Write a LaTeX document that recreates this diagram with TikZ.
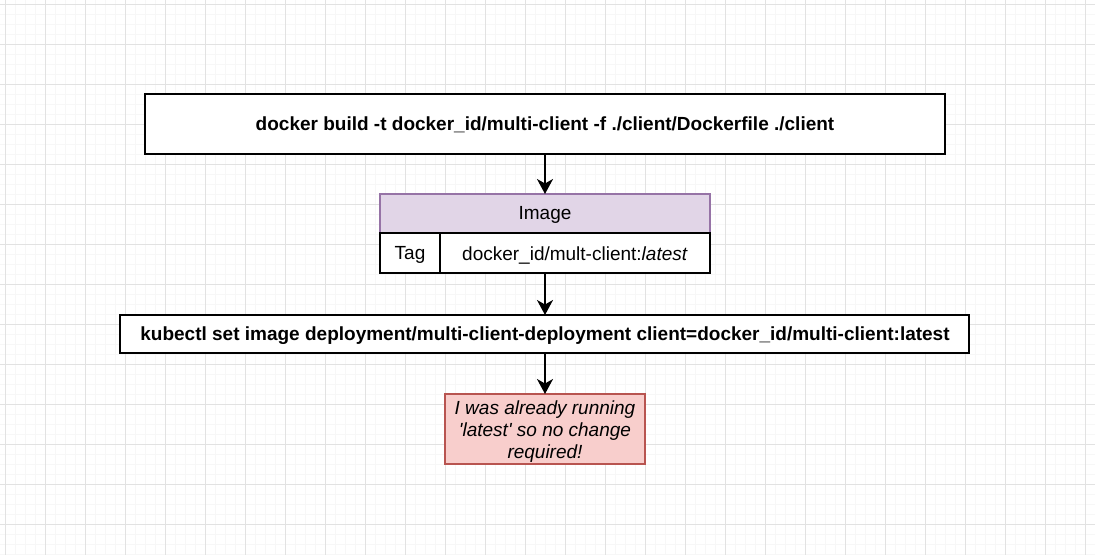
\documentclass[tikz,border=0pt]{standalone}
\usepackage{fontspec}
\setmainfont{Liberation Sans}
\usetikzlibrary{arrows.meta}
\definecolor{gridminor}{HTML}{F7F7F7}
\definecolor{gridmajor}{HTML}{E2E2E2}
\definecolor{purplefill}{HTML}{E1D5E7}
\definecolor{purpleline}{HTML}{9673A6}
\definecolor{redfill}{HTML}{F8CECC}
\definecolor{redline}{HTML}{B85450}
\tikzset{
  cmdbox/.style={draw=black, line width=2pt, fill=white, inner sep=0pt},
  flow/.style={line width=2pt, -{Stealth[length=15pt,width=16pt,inset=4.5pt]}},
  txt/.style={font=\fontsize{19}{22}\selectfont},
}
\begin{document}
\begin{tikzpicture}[x=1pt,y=-1pt]
\useasboundingbox (0,0) rectangle (1095,555);
\fill[white] (0,0) rectangle (1095,555);
% grid
\foreach \x in {-5,5,...,1095} \draw[gridminor, line width=0.8pt] (\x,0) -- (\x,555);
\foreach \y in {-6,4,...,555} \draw[gridminor, line width=0.8pt] (0,\y) -- (1095,\y);
\foreach \x in {5,45,...,1095} \draw[gridmajor, line width=1pt] (\x,0) -- (\x,555);
\foreach \y in {4,44,...,555} \draw[gridmajor, line width=1pt] (0,\y) -- (1095,\y);

% top command
\draw[cmdbox] (145,94) rectangle (945,154);
\node[txt, font=\fontsize{19}{22}\selectfont\bfseries] (build) at (545,125) {docker build -t docker\_id/multi-client -f ./client/Dockerfile ./client};
\coordinate (buildS) at (545,154);

% image box
\fill[purplefill] (380,194) rectangle (710,233);
\draw[purpleline, line width=1.5pt] (380,233) -- (380,194) -- (710,194) -- (710,233);
\node[txt] (imgtitle) at (545,215) {Image};
\coordinate (imgN) at (545,194);
\draw[line width=2pt, fill=white] (380,233) rectangle (710,273);
\draw[line width=2pt] (440,233) -- (440,273);
\node[txt] (tag) at (410,255) {Tag};
\node[txt] (tagval) at (575,255) {docker\_id/mult-client:\textit{latest}};
\coordinate (imgS) at (545,273);

% kubectl
\draw[cmdbox] (120,315) rectangle (969,353);
\node[txt, font=\fontsize{19}{22}\selectfont\bfseries] (kube) at (545,335.5) {kubectl set image deployment/multi-client-deployment client=docker\_id/multi-client:latest};
\coordinate (kubeN) at (545,315);
\coordinate (kubeS) at (545,353);

% note
\draw[redline, line width=1.5pt, fill=redfill] (445,394) rectangle (645,464);
\node[txt, align=center, font=\fontsize{19}{22}\selectfont\itshape] (note) at (545,432) {I was already running\\\textquotesingle latest\textquotesingle{} so no change\\required!};
\coordinate (noteN) at (545,394);

\draw[flow] (buildS) -- (imgN);
\draw[flow] (imgS) -- (kubeN);
\draw[flow] (kubeS) -- (noteN);
\end{tikzpicture}
\end{document}
